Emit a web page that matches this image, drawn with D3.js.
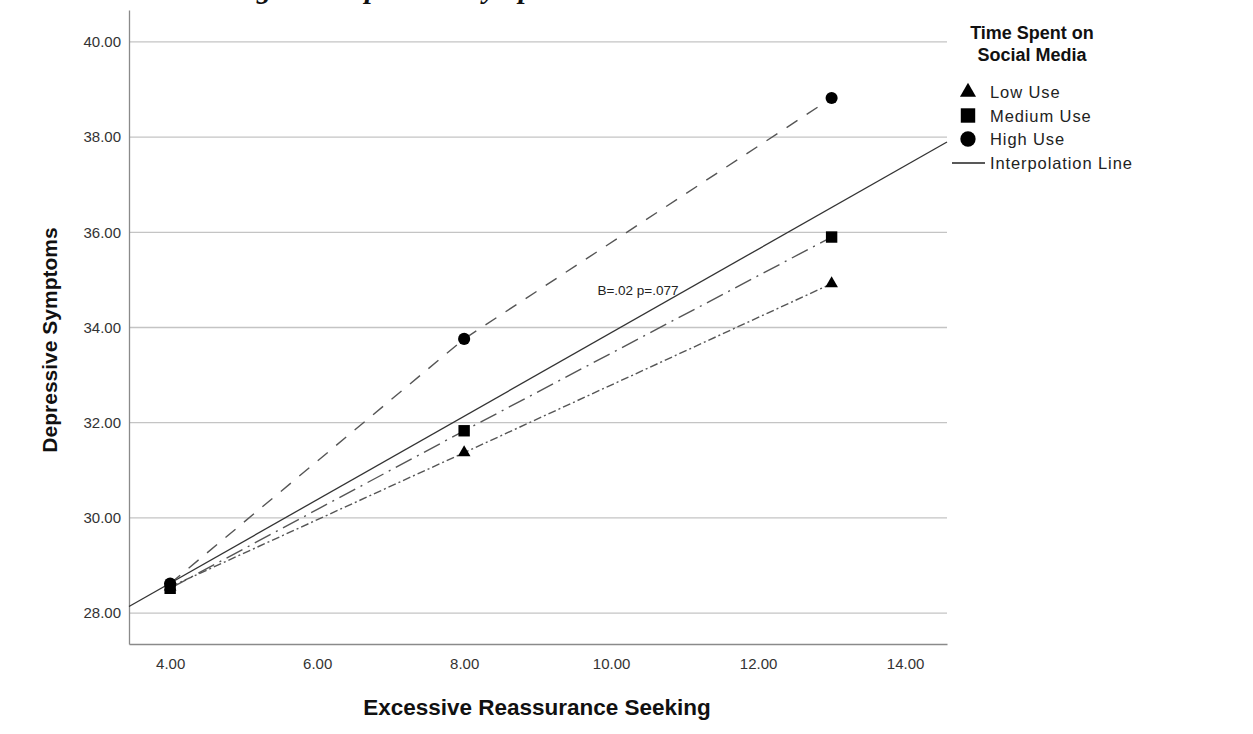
<!DOCTYPE html>
<html>
<head>
<meta charset="utf-8">
<script src="https://cdn.jsdelivr.net/npm/d3@7"></script>
<style>
  body { margin: 0; background: #fff; }
  svg { display: block; }
</style>
</head>
<body>
<div id="chart"></div>
<script>
'use strict';

// data
var xValues = [4, 8, 13];
var lowUse = [28.55, 31.37, 34.92];
var mediumUse = [28.52, 31.83, 35.9];
var highUse = [28.62, 33.76, 38.82];
var seriesNames = ["Low Use", "Medium Use", "High Use"];
var interpIntercept = 25.12;   // solid interpolation line, y = a + b*x
var interpSlope = 0.877;
var xTicks = [4, 6, 8, 10, 12, 14];
var yTicks = [28, 30, 32, 34, 36, 38, 40];
var note = "B=.02 p=.077";

var W = 1253, H = 734;
var pLeft = 129, pRight = 947, pTop = 10, pBottom = 644;
var sans = "Liberation Sans, Arial, sans-serif";

var svg = d3.select("#chart").append("svg")
    .attr("width", W).attr("height", H);

var x = d3.scaleLinear().domain([3.44, 14.57]).range([pLeft, pRight]);
var y = d3.scaleLinear().domain([27.35, 40.67]).range([pBottom, pTop]);

// caption cut off at the top of the picture (only descenders show)
var cap = svg.append("text")
    .text("Excessive Reassurance Seeking and Depressive Symptoms")
    .attr("x", 0).attr("y", -2)
    .attr("font-family", "Liberation Serif, Times New Roman, serif")
    .attr("font-size", "29px").attr("font-weight", "bold").attr("font-style", "italic")
    .attr("fill", "#111");
var gIdx = cap.text().indexOf("g ");
var gPos = cap.node().getStartPositionOfChar(gIdx).x;
cap.attr("x", 257 - gPos);

// gridlines
svg.append("g").selectAll("line")
    .data(yTicks).enter().append("line")
    .attr("x1", pLeft).attr("x2", pRight)
    .attr("y1", function(d) { return y(d); }).attr("y2", function(d) { return y(d); })
    .attr("stroke", "#c4c4c4").attr("stroke-width", 1.3);

// axes, no tick marks
var yAxis = svg.append("g").attr("transform", "translate(" + pLeft + ",0)")
    .call(d3.axisLeft(y).tickValues(yTicks).tickSize(0).tickPadding(8).tickFormat(d3.format(".2f")));
var xAxis = svg.append("g").attr("transform", "translate(0," + pBottom + ")")
    .call(d3.axisBottom(x).tickValues(xTicks).tickSize(0).tickPadding(14).tickFormat(d3.format(".2f")));
[yAxis, xAxis].forEach(function(a) {
    a.select(".domain").attr("stroke", "#8a8a8a").attr("stroke-width", 1.3);
    a.selectAll("text").attr("font-family", sans)
        .attr("font-size", "15px").attr("fill", "#333");
});

// interpolation line across the whole plot
var xd = x.domain();
svg.append("line")
    .attr("x1", x(xd[0])).attr("y1", y(interpIntercept + interpSlope * xd[0]))
    .attr("x2", x(xd[1])).attr("y2", y(interpIntercept + interpSlope * xd[1]))
    .attr("stroke", "#333").attr("stroke-width", 1.3);

// group lines
var series = [
    { name: seriesNames[0], values: lowUse, dash: "8,3,2,3", sym: d3.symbolTriangle, size: 70 },
    { name: seriesNames[1], values: mediumUse, dash: "18,6,2,6", sym: d3.symbolSquare, size: 130 },
    { name: seriesNames[2], values: highUse, dash: "13,11", sym: d3.symbolCircle, size: 115 }
];

var line = d3.line()
    .x(function(d, i) { return x(xValues[i]); })
    .y(function(d) { return y(d); });

series.forEach(function(s) {
    svg.append("path")
        .attr("d", line(s.values))
        .attr("fill", "none").attr("stroke", "#555").attr("stroke-width", 1.4)
        .attr("stroke-dasharray", s.dash);
});
series.forEach(function(s) {
    svg.append("g").selectAll("path")
        .data(s.values).enter().append("path")
        .attr("d", d3.symbol().type(s.sym).size(s.size))
        .attr("transform", function(d, i) { return "translate(" + x(xValues[i]) + "," + y(d) + ")"; })
        .attr("fill", "#000");
});

// note
svg.append("text").text(note)
    .attr("x", 638).attr("y", 295).attr("text-anchor", "middle")
    .attr("font-family", sans).attr("font-size", "13.5px")
    .attr("fill", "#222");

// axis titles
svg.append("text").text("Excessive Reassurance Seeking")
    .attr("x", 537).attr("y", 715).attr("text-anchor", "middle")
    .attr("font-family", sans).attr("font-size", "22.5px")
    .attr("font-weight", "bold").attr("fill", "#111");
svg.append("text").text("Depressive Symptoms")
    .attr("transform", "translate(57,340) rotate(-90)").attr("text-anchor", "middle")
    .attr("font-family", sans).attr("font-size", "21px")
    .attr("font-weight", "bold").attr("fill", "#111");

// legend
var lg = svg.append("g");
lg.append("text").attr("x", 1032).attr("y", 39).attr("text-anchor", "middle")
    .attr("font-family", sans).attr("font-size", "18px")
    .attr("font-weight", "bold").attr("fill", "#111")
    .selectAll("tspan").data(["Time Spent on", "Social Media"]).enter().append("tspan")
    .attr("x", 1032).attr("dy", function(d, i) { return i ? 22 : 0; })
    .text(function(d) { return d; });

series.forEach(function(s, i) {
    var ly = 92 + i * 23.5;
    lg.append("path")
        .attr("d", d3.symbol().type(s.sym).size(s.size * 1.6))
        .attr("transform", "translate(968," + ly + ")")
        .attr("fill", "#000");
    lg.append("text").text(s.name)
        .attr("x", 990).attr("y", ly + 6)
        .attr("font-family", sans).attr("font-size", "16.5px")
        .attr("letter-spacing", "0.9px").attr("fill", "#222");
});
lg.append("line").attr("x1", 952).attr("x2", 985).attr("y1", 163).attr("y2", 163)
    .attr("stroke", "#222").attr("stroke-width", 1.3);
lg.append("text").text("Interpolation Line")
    .attr("x", 990).attr("y", 169)
    .attr("font-family", sans).attr("font-size", "16.5px")
    .attr("letter-spacing", "0.9px").attr("fill", "#222");
</script>
</body>
</html>
